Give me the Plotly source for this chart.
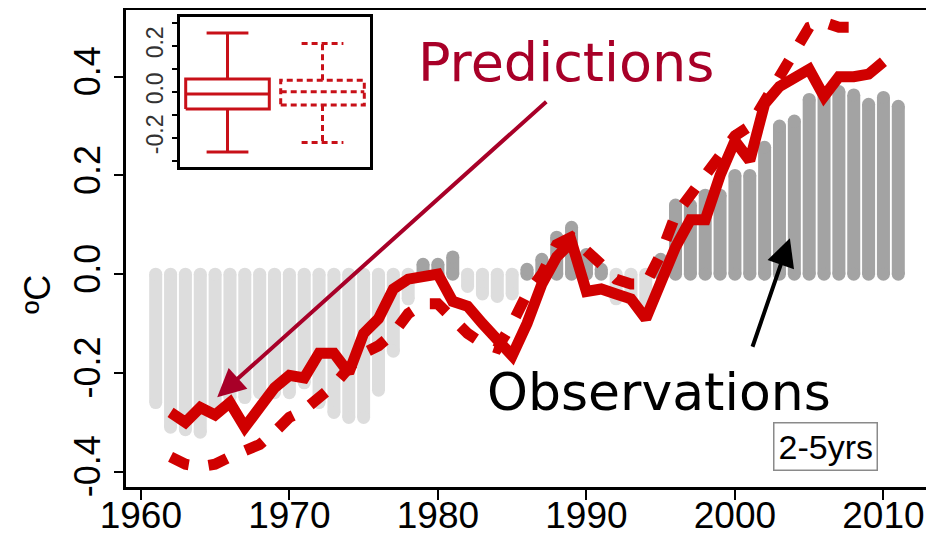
import plotly.graph_objects as go

# ---------------- data ----------------
bar_years = list(range(1961, 2012))
obs_values = [-0.26, -0.31, -0.315, -0.32, -0.27, -0.25, -0.25, -0.24, -0.24, -0.24,
              -0.22, -0.26, -0.28, -0.29, -0.29, -0.235, -0.156, -0.05, 0.02, 0.02,
              0.035, -0.025, -0.04, -0.045, -0.04, 0.01, 0.03, 0.075, 0.095, 0.04,
              0.01, -0.05, -0.05, -0.06, 0.03, 0.14, 0.14, 0.16, 0.16, 0.20,
              0.20, 0.257, 0.30, 0.31, 0.354, 0.365, 0.37, 0.363, 0.344, 0.358, 0.34]
obs_significant = [0]*18 + [1, 1, 1] + [0, 0, 0, 0] + [1, 1, 1, 1, 1, 1] + [0, 0, 0] + [1]*17

pred_years = list(range(1962, 2011))
pred_solid = [-0.28, -0.30, -0.27, -0.285, -0.26, -0.31, -0.27, -0.23, -0.205, -0.21,
              -0.16, -0.16, -0.20, -0.12, -0.09, -0.03, -0.01, -0.005, 0.0, -0.055,
              -0.065, -0.10, -0.13, -0.165, -0.10, -0.02, 0.035, 0.065, -0.035, -0.03,
              -0.04, -0.05, -0.09, -0.015, 0.055, 0.11, 0.11, 0.20, 0.27, 0.23,
              0.345, 0.38, 0.395, 0.415, 0.36, 0.40, 0.40, 0.405, 0.43]

dash_years = list(range(1962, 2009))
pred_dashed = [-0.37, -0.385, -0.39, -0.385, -0.37, -0.36, -0.345, -0.32, -0.29, -0.275,
               -0.25, -0.225, -0.19, -0.16, -0.145, -0.12, -0.08, -0.06, -0.06, -0.09,
               -0.12, -0.14, -0.15, -0.10, -0.04, 0.0, 0.06, 0.075, 0.05, 0.02,
               -0.01, -0.02, -0.02, 0.04, 0.12, 0.16, 0.20, 0.24, 0.28, 0.30,
               0.35, 0.41, 0.45, 0.50, 0.51, 0.50, 0.50]

# inset box statistics: [lower whisker, q1, median, q3, upper whisker]
box_solid = [-0.262, -0.075, -0.01, 0.055, 0.255]
box_dashed = [-0.22, -0.058, 0.0, 0.05, 0.21]

x_ticks = [1960, 1970, 1980, 1990, 2000, 2010]
y_ticks = [-0.4, -0.2, 0.0, 0.2, 0.4]
y_ticklabels = ["-0.4", "-0.2", "0.0", "0.2", "0.4"]
inset_ticks = [-0.3, -0.2, -0.1, 0.0, 0.1, 0.2, 0.3]
inset_ticklabels = ["", "-0.2", "", "0.0", "", "0.2", ""]

# ---------------- styles ----------------
LIGHT = "rgb(221,221,221)"
DARK = "rgb(163,163,163)"
RED = "rgb(208,0,0)"
BOXRED = "rgb(200,16,24)"
CRIMSON = "rgb(168,0,40)"
BAR_W = 13
FONT = "Liberation Sans"

fig = go.Figure()

# observation bars (rounded pills from 0 to value)
for flag, col in [(0, LIGHT), (1, DARK)]:
    xs, ys, mx, my = [], [], [], []
    for yr, v, s in zip(bar_years, obs_values, obs_significant):
        if s != flag:
            continue
        xs += [yr, yr, None]
        ys += [0, v, None]
        mx += [yr, yr]
        my += [0, v]
    fig.add_trace(go.Scatter(x=xs, y=ys, mode="lines", line=dict(color=col, width=BAR_W),
                             hoverinfo="skip", showlegend=False))
    fig.add_trace(go.Scatter(x=mx, y=my, mode="markers",
                             marker=dict(color=col, size=BAR_W, line=dict(width=0)),
                             hoverinfo="skip", showlegend=False))

# predictions
fig.add_trace(go.Scatter(x=dash_years, y=pred_dashed, mode="lines",
                         line=dict(color=RED, width=11, dash="20px,20px"),
                         showlegend=False))
fig.add_trace(go.Scatter(x=pred_years, y=pred_solid, mode="lines",
                         line=dict(color=RED, width=11),
                         showlegend=False))


# inset boxplots
def box_path(c, stats, hw=0.44, cw=0.22):
    lo, q1, med, q3, hi = stats
    xs = [c - hw, c + hw, c + hw, c - hw, c - hw, None,
          c - hw, c + hw, None,
          c, c, None, c, c, None,
          c - cw, c + cw, None, c - cw, c + cw]
    ys = [q1, q1, q3, q3, q1, None,
          med, med, None,
          q3, hi, None, q1, lo, None,
          hi, hi, None, lo, lo]
    return xs, ys


for c, stats, dash in [(1, box_solid, "solid"), (2, box_dashed, "6px,4px")]:
    xs, ys = box_path(c, stats)
    fig.add_trace(go.Scatter(x=xs, y=ys, mode="lines", xaxis="x2", yaxis="y2",
                             line=dict(color=BOXRED, width=3, dash=dash),
                             showlegend=False, hoverinfo="skip"))

# ---------------- layout ----------------
# page pixel positions (the html body adds an 8px offset)
OFF = 8
page_l, page_r, page_t, page_b = 126, 928, 10, 487
W, H = 934 - OFF, 536 - OFF
plot_l, plot_r, plot_t, plot_b = page_l - OFF, page_r - OFF, page_t - OFF, page_b - OFF


def px_to_paper(x, y):
    return (x - page_l) / (page_r - page_l), (page_b - y) / (page_b - page_t)


ix0, iy0 = px_to_paper(180, 167)
ix1, iy1 = px_to_paper(370, 17)

fig.update_layout(
    width=W, height=H,
    margin=dict(l=plot_l, r=W - plot_r, t=plot_t, b=H - plot_b, autoexpand=False),
    paper_bgcolor="white", plot_bgcolor="white",
    font=dict(family=FONT, color="black"),
    xaxis=dict(range=[1959, 2013], tickvals=x_ticks, ticks="outside", ticklen=10,
               tickwidth=2, tickcolor="black", showline=True, mirror=True, linewidth=2.5,
               linecolor="black", showgrid=False, zeroline=False, automargin=False,
               ticklabelstandoff=-16,
               tickfont=dict(size=37, family=FONT)),
    yaxis=dict(range=[-0.431, 0.535], tickvals=y_ticks, ticktext=y_ticklabels,
               tickangle=-90, ticks="outside", ticklen=9, tickwidth=2, tickcolor="black",
               showline=True, mirror=True, linewidth=2.5, linecolor="black",
               showgrid=False, zeroline=False, automargin=False,
               tickfont=dict(size=36, family=FONT)),
    xaxis2=dict(domain=[ix0, ix1], anchor="y2", range=[0.5, 2.5], showticklabels=False,
                ticks="", showline=True, mirror=True, linewidth=2.5, linecolor="black",
                showgrid=False, zeroline=False, automargin=False),
    yaxis2=dict(domain=[iy0, iy1], anchor="x2", range=[-0.327, 0.325],
                tickvals=inset_ticks, ticktext=inset_ticklabels, tickangle=-90,
                ticks="outside", ticklen=5, tickwidth=2, tickcolor="black",
                showline=True, mirror=True, linewidth=2.5, linecolor="black",
                showgrid=False, zeroline=False, automargin=False,
                tickfont=dict(size=23, family=FONT, color="#333")),
    showlegend=False,
)

# y-axis title
tx, ty = px_to_paper(37, 295)
fig.add_annotation(x=tx, y=ty, xref="paper", yref="paper", text="ºC", textangle=-90,
                   xanchor="center", yanchor="middle",
                   showarrow=False, font=dict(size=36, family=FONT, color="black"))

# text labels
px_, py_ = px_to_paper(566, 62)
fig.add_annotation(x=px_, y=py_, xref="paper", yref="paper", text="Predictions",
                   xanchor="center", yanchor="middle",
                   showarrow=False, font=dict(size=54, family="DejaVu Sans", color=CRIMSON))
ox, oy = px_to_paper(659, 392)
fig.add_annotation(x=ox, y=oy, xref="paper", yref="paper", text="Observations",
                   xanchor="center", yanchor="middle",
                   showarrow=False, font=dict(size=52, family="DejaVu Sans", color="black"))
bx, by = px_to_paper(825, 446.5)
fig.add_annotation(x=bx, y=by, xref="paper", yref="paper", text="2-5yrs",
                   xanchor="center", yanchor="middle",
                   showarrow=False, font=dict(size=34, family=FONT, color="black"),
                   bordercolor="#8a8a8a", borderwidth=1.5, borderpad=4, bgcolor="white")

# arrows
fig.add_annotation(x=1965.14, y=-0.249, ax=1987.4, ay=0.352, xref="x", yref="y",
                   axref="x", ayref="y", text="", showarrow=True, arrowhead=2,
                   arrowsize=1.4, arrowwidth=4, arrowcolor=CRIMSON)
fig.add_annotation(x=2003.7, y=0.073, ax=2001.15, ay=-0.15, xref="x", yref="y",
                   axref="x", ayref="y", text="", showarrow=True, arrowhead=2,
                   arrowsize=1.4, arrowwidth=4, arrowcolor="black")

fig.write_html("out.html")
